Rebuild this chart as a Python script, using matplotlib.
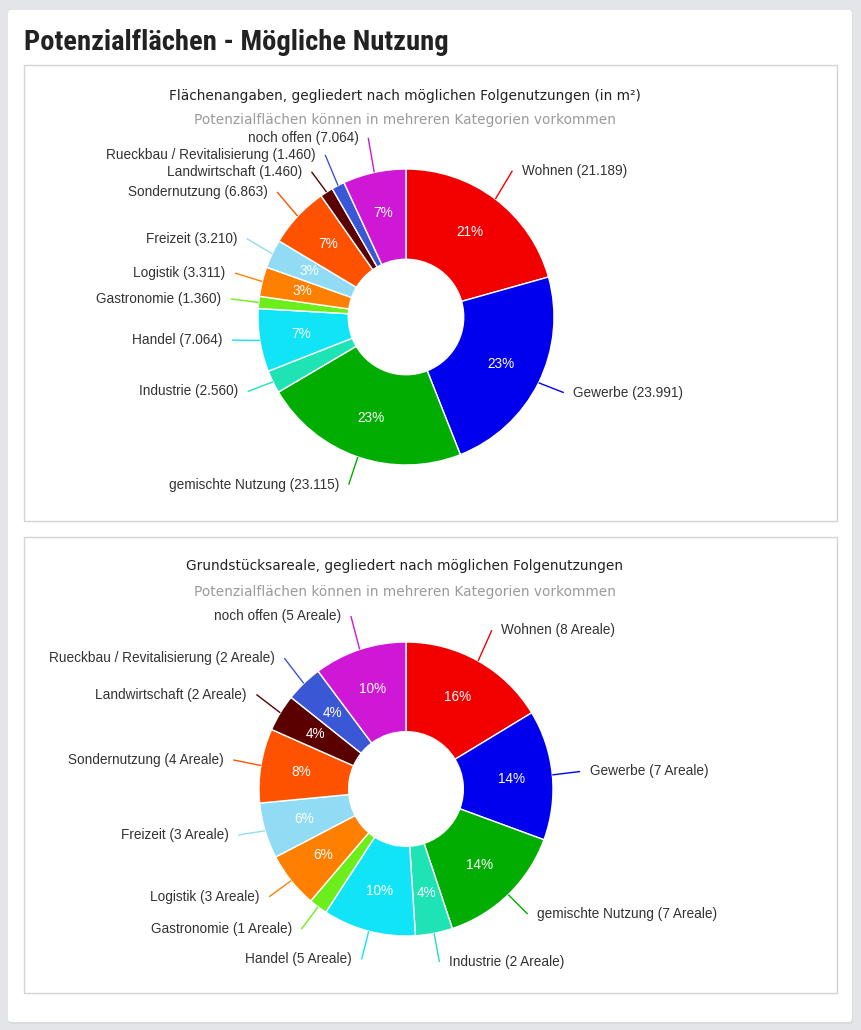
import numpy as np
import matplotlib
matplotlib.use("Agg")
import matplotlib.pyplot as plt
from matplotlib.patches import Rectangle, FancyBboxPatch

W, H = 862, 1030

categories = ["Wohnen", "Gewerbe", "gemischte Nutzung", "Industrie", "Handel",
              "Gastronomie", "Logistik", "Freizeit", "Sondernutzung",
              "Landwirtschaft", "Rueckbau / Revitalisierung", "noch offen"]
flaeche_m2 = [21189, 23991, 23115, 2560, 7064, 1360, 3311, 3210, 6863, 1460, 1460, 7064]
areale = [8, 7, 7, 2, 5, 1, 3, 3, 4, 2, 2, 5]
colors = ["#f20000", "#0000ee", "#00ad00", "#1ee3b4", "#12e4f8", "#6cee1c",
          "#ff8000", "#91dcf4", "#ff5200", "#5a0000", "#3a57d6", "#cf17d6"]

label_font = "Liberation Sans"


def px_box(x0, y0, x1, y1):
    # pixel box (top-left origin) -> figure fraction
    return x0 / W, 1 - y1 / H, (x1 - x0) / W, (y1 - y0) / H


def donut(cx, cy, values, labels, R=148, S=260):
    ax = fig.add_axes(px_box(cx - S, cy - S, cx + S, cy + S))
    ax.set_zorder(2)
    lim = S / R
    ax.set_aspect("equal")
    ax.axis("off")
    wedges, _ = ax.pie(values, colors=colors, startangle=90, counterclock=False,
                       radius=1, wedgeprops=dict(width=0.61, edgecolor="white", linewidth=1))
    ax.set_xlim(-lim, lim)
    ax.set_ylim(-lim, lim)
    total = float(sum(values))
    left, right = [], []
    for w, v, lab, c in zip(wedges, values, labels, colors):
        phi = np.deg2rad((w.theta1 + w.theta2) / 2)
        frac = v / total
        if frac >= 0.03:
            ax.text(0.72 * np.cos(phi), 0.72 * np.sin(phi), f"{round(frac * 100)}%",
                    color="white", fontsize=9.8, family=label_font,
                    ha="center", va="center")
        s = np.sin(phi)
        ly = 1.24 * s + 0.04 * np.clip(-s / 0.15, 0, 1)
        item = [phi, ly, lab, c]
        (left if np.cos(phi) < 0 else right).append(item)
    gap = 17 / R
    for side in (left, right):
        side.sort(key=lambda it: -it[1])
        for i in range(1, len(side)):
            if side[i][1] > side[i - 1][1] - gap:
                side[i][1] = side[i - 1][1] - gap
    for side, sgn in ((left, -1), (right, 1)):
        for phi, y, lab, c in side:
            x0, y0 = 1.0 * np.cos(phi), 1.0 * np.sin(phi)
            xe = 1.19 * np.cos(phi)
            ax.plot([x0, xe], [y0, y], color=c, lw=1, solid_capstyle="butt")
            ax.text(xe + sgn * 0.065, y, lab, color="#333333", fontsize=9.8,
                    family=label_font, ha="left" if sgn > 0 else "right", va="center")
    return ax


fig = plt.figure(figsize=(W / 100, H / 100), dpi=100)
fig.patch.set_facecolor("#e3e5e8")

# card
fig.patches.append(FancyBboxPatch((9 / W, 1 - 1024 / H), 844 / W, 1012 / H,
                                  boxstyle="round,pad=0,rounding_size=0.004",
                                  transform=fig.transFigure, facecolor="#d8dadd",
                                  edgecolor="none", zorder=-2))
fig.patches.append(FancyBboxPatch((8 / W, 1 - 1022 / H), 844 / W, 1012 / H,
                                  boxstyle="round,pad=0,rounding_size=0.004",
                                  transform=fig.transFigure, facecolor="white",
                                  edgecolor="none", zorder=-1))
for y0, y1 in ((65, 521), (537, 993)):
    fig.patches.append(Rectangle(px_box(24, y0, 837, y1)[:2], 813 / W, (y1 - y0) / H,
                                 transform=fig.transFigure, facecolor="none",
                                 edgecolor="#d4d4d4", lw=1, zorder=1))

fig.text(24 / W, 1 - 42 / H, "Potenzialflächen - Mögliche Nutzung",
         family=["Liberation Sans Narrow", "DejaVu Sans Condensed", "Roboto Condensed",
                 "Open Sans Condensed", "DejaVu Sans"],
         fontweight="bold", fontsize=20.5, color="#222222", va="center", ha="left")

subtitle = "Potenzialflächen können in mehreren Kategorien vorkommen"

fig.text(405 / W, 1 - 96 / H, "Flächenangaben, gegliedert nach möglichen Folgenutzungen (in m²)",
         family="DejaVu Sans", fontsize=9.9, color="#222222", ha="center", va="center")
fig.text(405 / W, 1 - 120 / H, subtitle,
         family="DejaVu Sans", fontsize=9.9, color="#9a9a9a", ha="center", va="center")
labels1 = [f"{c} ({v:,})".replace(",", ".") for c, v in zip(categories, flaeche_m2)]
donut(406, 317, flaeche_m2, labels1)

fig.text(405 / W, 1 - 566 / H, "Grundstücksareale, gegliedert nach möglichen Folgenutzungen",
         family="DejaVu Sans", fontsize=9.9, color="#222222", ha="center", va="center")
fig.text(405 / W, 1 - 592 / H, subtitle,
         family="DejaVu Sans", fontsize=9.9, color="#9a9a9a", ha="center", va="center")
labels2 = [f"{c} ({v} Areale)" for c, v in zip(categories, areale)]
donut(406, 789, areale, labels2, R=147)

fig.savefig("out.png", dpi=100)
